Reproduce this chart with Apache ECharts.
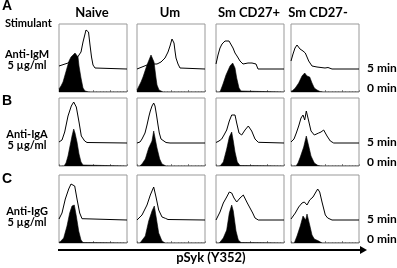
<!DOCTYPE html>
<html>
<head>
<meta charset="utf-8">
<script src="https://cdn.jsdelivr.net/npm/echarts@6/dist/echarts.min.js"></script>
<style>
  html, body { margin: 0; padding: 0; background: #fff; }
  #chart { width: 397px; height: 268px; }
</style>
</head>
<body>
<div id="chart"></div>
<script>
// column / row labels
const cellTypes = ['Naive', 'Um', 'Sm CD27+', 'Sm CD27-'];
const stimulants = ['Anti-IgM', 'Anti-IgA', 'Anti-IgG'];
const doses = ['5 µg/ml', '5 µg/ml', '5 µg/ml'];
const panelLetters = ['A', 'B', 'C'];
const timeLabels = ['5 min', '0 min'];
const axisTitle = 'pSyk (Y352)';

// histograms, [channel, count] (channel 0-68, count 0-68)
// anti-IgM
const igmNaive5 = [[0,3],[3,4],[6,5],[9,6],[12,8],[15,10],[18,11],[20,12],[22,17],[24,27],[26,35],[27,39],[28.5,41],[29.5,37],[31,24],[32.5,12],[34,4],[36,1],[38,0],[68,0]];
const igmNaive0 = [[0,3],[2,6],[4,10],[6,17],[8,24],[10,31],[12,35],[14,37],[16,39],[18,38],[19,35],[20,26],[22,14],[24,4],[26,1],[30,0],[68,0]];
const igmUm5 = [[0,0],[5,2],[10,4],[15,5],[20,5],[24,7],[28,11],[31,17],[33,23],[35,30],[36,31],[37,26],[38,18],[39,11],[41,5],[43,1],[45,0],[68,0]];
const igmUm0 = [[0,2],[2,6],[4,10],[6,15],[8,21],[10,27],[12,32],[14,37],[15,38],[16,36],[17,30],[18,22],[19,14],[20,7],[22,2],[24,0.5],[26,0],[68,0]];
const igmCd27p5 = [[0,5],[2,14],[4,21],[6,25],[9,28],[11,30],[13,28],[15,27],[17,21],[19,16],[21,13],[24,8],[27,5],[29,5],[32,6],[34,6.5],[36,6],[38,7],[40,5],[42,0],[68,0]];
const igmCd27p0 = [[0,0],[4,0],[7,8],[10,17],[14,26],[16.7,29],[19,24],[20.7,14],[23,4],[25,1],[27,0],[68,0]];
const igmCd27m5 = [[0,8],[2,15],[4,21],[6,24],[7.5,23],[9,20],[10.5,21],[12,18],[14.3,16],[16,12],[17.7,8],[21,3],[26,2],[30,1.5],[34,1],[37,1.5],[39,1],[41,0],[68,0]];
const igmCd27m0 = [[0,0],[2,1],[4.3,4],[7.7,9],[11,16],[13.7,19],[16,16],[18.7,15],[21,9],[23.3,4],[26,2],[29,0.5],[32,0],[68,0]];
// anti-IgA
const igaNaive5 = [[0,1],[3,3],[5.7,11],[9,27],[12.3,37],[14.7,41],[17.3,36],[20,21],[22.3,7],[25.7,2],[28,0.5],[30,0],[68,0]];
const igaNaive0 = [[0,0],[5,0],[7,3],[9,10],[11,20],[13,30],[14.7,37],[16,33],[18,24],[20,12],[22,4],[24,1],[26,0],[68,0]];
const igaUm5 = [[0,0],[3,1],[5,4],[8,10],[10,18],[12,27],[13.3,32],[15,37],[16.7,40],[18,37],[19.5,28],[21,18],[22.3,10],[24,4],[26,2],[29,0.5],[33,0],[68,0]];
const igaUm0 = [[0,0],[2.7,0],[5,2],[8.3,7],[11.7,18],[15,25],[16.7,35],[18.3,33],[20,18],[22.7,7],[25,2],[27,0.5],[29,0],[68,0]];
const igaCd27p5 = [[0,0.5],[3,2],[5.7,4],[8,8],[10.7,13],[13.3,22],[15.7,28],[17.3,30],[19,28],[20.7,20],[23,10],[25.7,8],[29,13],[32.3,17],[34,15],[35.7,12],[39,4],[42.3,0.7],[44,0],[68,0]];
const igaCd27p0 = [[0,0],[4,0],[7.3,4],[10.7,17],[13.3,29],[15.7,34],[17.3,25],[19,14],[21.3,4],[24,0.5],[26,0],[68,0]];
const igaCd27m5 = [[0,1],[3,4],[5.3,10],[7.7,17],[10,25],[12,28],[13.7,23],[15.3,32],[17.7,22],[20,12],[23.3,8],[27.7,10],[30,11],[32.7,13],[36,7],[39.3,2],[42.7,0],[68,0]];
const igaCd27m0 = [[0,0],[5,0],[7,3],[9.3,9],[12.7,19],[15.3,30],[17.7,20],[20,10],[23.3,3],[27,0.5],[30,0],[68,0]];
// anti-IgG
const iggNaive5 = [[0,1],[3,7],[6.3,21],[9.7,31],[12,36],[14,38],[15.7,34],[18,21],[20.7,7],[23,1.3],[25,0],[68,0]];
const iggNaive0 = [[0,0],[1.3,1],[4.7,5],[8,17],[10.7,30],[13,37],[15.3,38],[17.3,27],[19.7,12],[22,3],[24,0.5],[26,0],[68,0]];
const iggUm5 = [[0,0],[5,5],[10,15],[13.3,25],[16.7,33],[19,23],[21.7,10],[25,3],[28.3,1.7],[31,0.5],[33,0],[68,0]];
const iggUm0 = [[0,0],[3,0],[5,1],[8.3,7],[11.7,22],[15,32],[17.3,37],[19.3,25],[21.7,10],[25,2],[28,0],[68,0]];
const iggCd27p5 = [[0,0],[4,8],[7.3,17],[10.7,23],[13.3,28],[15.7,27],[18,22],[20.7,18],[24,22],[27.3,25],[29,23],[31.3,17],[34,12],[36.7,7],[39,2],[42.3,0],[68,0]];
const iggCd27p0 = [[0,0],[3.3,0],[7.3,5],[10.7,13],[13.3,30],[15.7,38],[17.3,32],[20,12],[22.3,3],[25,0.5],[27,0],[68,0]];
const iggCd27m5 = [[0,1],[4.3,7],[7.7,13],[11,17],[13.3,18],[16,15],[18.7,20],[22,23],[24.3,27],[26.7,31],[28.7,28],[31,18],[34.3,5],[36.7,2],[41,0],[68,0]];
const iggCd27m0 = [[0,0],[3.3,0],[6,7],[9.3,17],[12,27],[13.3,28],[14.7,23],[16,29],[18.7,18],[21,8],[23.3,4],[27.7,2],[31,0],[68,0]];

const fiveMin = [
    [igmNaive5, igmUm5, igmCd27p5, igmCd27m5],
    [igaNaive5, igaUm5, igaCd27p5, igaCd27m5],
    [iggNaive5, iggUm5, iggCd27p5, iggCd27m5]
];
const zeroMin = [
    [igmNaive0, igmUm0, igmCd27p0, igmCd27m0],
    [igaNaive0, igaUm0, igaCd27p0, igaCd27m0],
    [iggNaive0, iggUm0, iggCd27p0, iggCd27m0]
];

// layout
const colLeft = [59, 137, 216, 291];
const rowTop = [24, 98, 175];
const panelW = 68;
const panelH = 68;
const offset = 23; // 5 min trace drawn offset above the 0 min one
const font = 'Lato';

const myChart = echarts.init(document.getElementById('chart'));

const grid = [], xAxis = [], yAxis = [], series = [];
rowTop.forEach((top, r) => {
    colLeft.forEach((left, c) => {
        const i = grid.length;
        grid.push({
            left: left, top: top, width: panelW, height: panelH,
            show: true, borderColor: '#999', borderWidth: 1, backgroundColor: 'transparent'
        });
        xAxis.push({
            type: 'value', gridIndex: i, min: 0, max: 68, interval: 17,
            axisLine: { show: false },
            axisLabel: { show: false },
            splitLine: { show: false },
            axisTick: { show: true, inside: true, length: 2, lineStyle: { color: '#888' } },
            minorTick: { show: true, splitNumber: 5, length: 1, lineStyle: { color: '#aaa' } }
        });
        yAxis.push({
            type: 'value', gridIndex: i, min: 0, max: panelH, show: false
        });
        series.push({
            type: 'line', xAxisIndex: i, yAxisIndex: i, z: 2,
            showSymbol: false, silent: true,
            lineStyle: { color: '#000', width: 1 },
            data: fiveMin[r][c].map(p => [p[0], p[1] + offset])
        });
        series.push({
            type: 'line', xAxisIndex: i, yAxisIndex: i, z: 3,
            showSymbol: false, silent: true,
            lineStyle: { color: '#000', width: 0.6 },
            areaStyle: { color: '#000', opacity: 1 },
            data: zeroMin[r][c]
        });
    });
});

const graphic = [];
const txt = (text, x, y, size, align, fam) => ({
    type: 'text', x: x, y: y, silent: true,
    style: {
        text: text, fill: '#000', align: align || 'center', verticalAlign: 'middle',
        font: 'bold ' + size + 'px ' + (fam || font)
    }
});
const headerX = [92, 170, 249, 318];
cellTypes.forEach((t, c) => graphic.push(txt(t, headerX[c], 13, 13)));
graphic.push(txt('Stimulant', 5, 23, 11, 'left'));
const letterY = [6, 101, 179];
const stimY = [54, 134, 211];
panelLetters.forEach((l, r) => {
    graphic.push(txt(l, 2, letterY[r], 14, 'left', 'Liberation Sans'));
    graphic.push(txt(stimulants[r], 27, stimY[r], 11));
    graphic.push(txt(doses[r], 27, stimY[r] + 11, 11));
    graphic.push(txt(timeLabels[0], 367, rowTop[r] + panelH - offset - 1, 12, 'left'));
    graphic.push(txt(timeLabels[1], 367, rowTop[r] + panelH - 4, 12, 'left'));
});
graphic.push(txt(axisTitle, 211, 258, 13));
// axis arrow under the bottom row
graphic.push({ type: 'line', silent: true, shape: { x1: 58, y1: 250, x2: 362, y2: 250 }, style: { stroke: '#000', lineWidth: 2 } });
graphic.push({ type: 'polygon', silent: true, shape: { points: [[360, 246], [367, 250], [360, 254]] }, style: { fill: '#000' } });

const option = {
    animation: false,
    backgroundColor: '#fff',
    grid: grid,
    xAxis: xAxis,
    yAxis: yAxis,
    series: series,
    graphic: graphic
};
myChart.setOption(option);
</script>
</body>
</html>
